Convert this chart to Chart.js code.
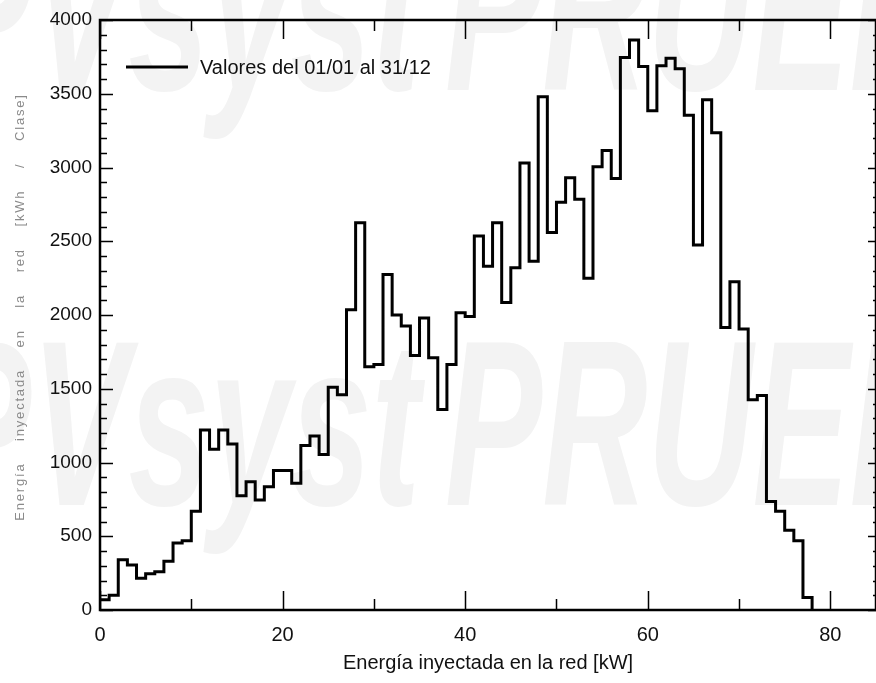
<!DOCTYPE html>
<html>
<head>
<meta charset="utf-8">
<script src="https://cdn.jsdelivr.net/npm/chart.js@4.4.0/dist/chart.umd.min.js"></script>
<style>
  html, body { margin: 0; padding: 0; background: #fff; }
  #wrap { width: 876px; height: 683px; }
</style>
</head>
<body>
<div id="wrap"><canvas id="histChart" width="876" height="683"></canvas></div>
<script>
// histogram classes: start of each 1 kW class, and energy per class (kWh / Clase)
var binStarts = [0, 1, 2, 3, 4, 5, 6, 7, 8, 9,
                 10, 11, 12, 13, 14, 15, 16, 17, 18, 19,
                 20, 21, 22, 23, 24, 25, 26, 27, 28, 29,
                 30, 31, 32, 33, 34, 35, 36, 37, 38, 39,
                 40, 41, 42, 43, 44, 45, 46, 47, 48, 49,
                 50, 51, 52, 53, 54, 55, 56, 57, 58, 59,
                 60, 61, 62, 63, 64, 65, 66, 67, 68, 69,
                 70, 71, 72, 73, 74, 75, 76, 77];
var binEnd = 78;
var energy = [70, 100, 340, 305, 215, 245, 260, 330, 455, 470,
              670, 1220, 1090, 1220, 1125, 775, 870, 745, 835, 945,
              945, 860, 1115, 1180, 1055, 1510, 1460, 2035, 2625, 1650,
              1665, 2275, 2000, 1925, 1725, 1980, 1710, 1360, 1665, 2015,
              1990, 2535, 2330, 2625, 2085, 2320, 3030, 2365, 3480, 2560,
              2765, 2930, 2785, 2250, 3005, 3115, 2925, 3745, 3865, 3685,
              3385, 3690, 3740, 3670, 3355, 2475, 3460, 3235, 1915, 2225,
              1905, 1425, 1455, 735, 670, 540, 470, 85];
var xTicks = [0, 20, 40, 60, 80];
var yTicks = [0, 500, 1000, 1500, 2000, 2500, 3000, 3500, 4000];
var seriesLabel = 'Valores del 01/01 al 31/12';
var yTitle = 'Energía    inyectada    en    la    red    [kWh    /    Clase]';

var FONT = '"Liberation Sans", Arial, sans-serif';

var points = binStarts.map(function (x, i) { return { x: x, y: energy[i] }; });
points.push({ x: binEnd, y: 0 });

// light watermark behind the plot
var watermark = {
    id: 'watermark',
    beforeDraw: function (chart) {
        var ctx = chart.ctx;
        ctx.save();
        ctx.fillStyle = '#f3f3f3';
        ctx.font = 'italic bold 235px ' + FONT;
        ctx.textBaseline = 'alphabetic';
        [90, 505].forEach(function (base) {
            ctx.save();
            ctx.translate(0, base);
            ctx.scale(0.62, 1);
            ctx.textAlign = 'right';
            ctx.fillText('PVsyst', 420 / 0.62, 0);
            ctx.textAlign = 'left';
            ctx.fillText('PRUEBA', 445 / 0.62, 0);
            ctx.restore();
        });
        ctx.restore();
    }
};

// box frame with inward ticks on all four sides, the legend and the y title
var frame = {
    id: 'frame',
    afterDatasetsDraw: function (chart) {
        var ctx = chart.ctx;
        var a = chart.chartArea;
        var xs = chart.scales.x, ys = chart.scales.y;
        ctx.save();
        ctx.strokeStyle = '#000';
        ctx.lineWidth = 1.5;
        ctx.beginPath();
        var v, p, len;
        for (v = 0; v <= 4000; v += 100) {
            p = Math.round(ys.getPixelForValue(v)) + 0.5;
            len = (v % 500 === 0) ? 13 : 7;
            ctx.moveTo(a.left, p); ctx.lineTo(a.left + len, p);
            len = (v % 500 === 0) ? 8 : 3;
            ctx.moveTo(a.right, p); ctx.lineTo(a.right - len, p);
        }
        for (v = 0; v <= 85; v += 10) {
            p = Math.round(xs.getPixelForValue(v)) + 0.5;
            len = (v % 20 === 0) ? 19 : 11;
            ctx.moveTo(p, a.bottom); ctx.lineTo(p, a.bottom - len);
            ctx.moveTo(p, a.top); ctx.lineTo(p, a.top + len);
        }
        ctx.stroke();
        ctx.lineWidth = 2.5;
        ctx.strokeRect(a.left, a.top, a.right - a.left, a.bottom - a.top);

        // legend
        var ds = chart.data.datasets[0];
        ctx.strokeStyle = ds.borderColor;
        ctx.lineWidth = ds.borderWidth;
        ctx.beginPath();
        ctx.moveTo(126, 67); ctx.lineTo(188, 67);
        ctx.stroke();
        ctx.fillStyle = '#111';
        ctx.font = '20px ' + FONT;
        ctx.textBaseline = 'middle';
        ctx.fillText(ds.label, 200, 68);

        // rotated y axis title, widely spaced
        ctx.save();
        ctx.translate(20, 307);
        ctx.rotate(-Math.PI / 2);
        ctx.fillStyle = '#8a8a8a';
        ctx.font = '13px ' + FONT;
        ctx.letterSpacing = '1.8px';
        ctx.textAlign = 'center';
        ctx.textBaseline = 'middle';
        ctx.fillText(yTitle, 0, 0);
        ctx.restore();
        ctx.restore();
    }
};

var ctx = document.getElementById('histChart').getContext('2d');
var histChart = new Chart(ctx, {
    type: 'line',
    data: {
        datasets: [{
            label: seriesLabel,
            data: points,
            stepped: 'before',
            borderColor: '#000',
            borderWidth: 3,
            pointRadius: 0,
            fill: false,
            tension: 0
        }]
    },
    options: {
        responsive: false,
        animation: false,
        devicePixelRatio: 1,
        layout: { padding: { top: 20, right: 0, left: 0, bottom: 0 } },
        plugins: { legend: { display: false }, tooltip: { enabled: false } },
        scales: {
            x: {
                type: 'linear',
                min: 0,
                max: 85,
                afterBuildTicks: function (s) { s.ticks = xTicks.map(function (v) { return { value: v }; }); },
                afterFit: function (s) { s.height = 73; },
                grid: { display: false, drawTicks: false },
                border: { display: false },
                ticks: { color: '#111', font: { family: FONT, size: 20 }, padding: 13, maxRotation: 0,
                         callback: function (v) { return String(v); } },
                title: {
                    display: true,
                    text: 'Energía inyectada en la red [kW]',
                    color: '#111',
                    font: { family: FONT, size: 20 },
                    padding: { top: 0, bottom: 8 }
                }
            },
            y: {
                min: 0,
                max: 4000,
                afterBuildTicks: function (s) { s.ticks = yTicks.map(function (v) { return { value: v }; }); },
                afterFit: function (s) { s.width = 100; },
                grid: { display: false, drawTicks: false },
                border: { display: false },
                ticks: { color: '#111', font: { family: FONT, size: 19 }, padding: 8,
                         callback: function (v) { return String(v); } },
                title: { display: false }
            }
        }
    },
    plugins: [watermark, frame]
});
</script>
</body>
</html>
